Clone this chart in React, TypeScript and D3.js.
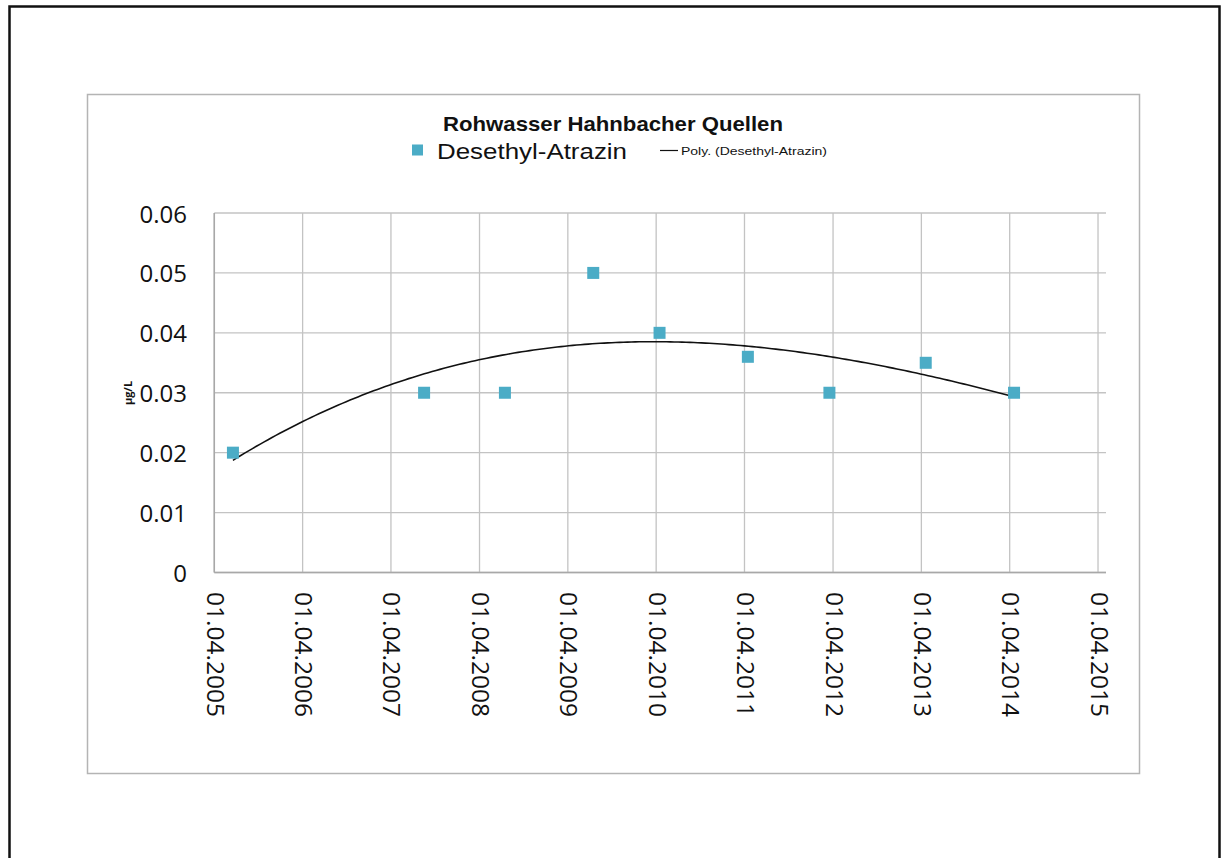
import React from 'react';
import * as d3 from 'd3';

const sampleDates = ['17.06.2005', '16.08.2007', '15.07.2008', '15.07.2009', '15.04.2010', '15.04.2011', '17.03.2012', '19.04.2013', '19.04.2014'];
const sampleValues = [0.02, 0.03, 0.03, 0.05, 0.04, 0.036, 0.03, 0.035, 0.03];
const xTickLabels = ['01.04.2005', '01.04.2006', '01.04.2007', '01.04.2008', '01.04.2009', '01.04.2010', '01.04.2011', '01.04.2012', '01.04.2013', '01.04.2014', '01.04.2015'];
const yTicks = [0, 0.01, 0.02, 0.03, 0.04, 0.05, 0.06];
const xDomain = ['01.04.2005', '04.05.2015'];
const trendOrder = 3;

const title = 'Rohwasser Hahnbacher Quellen';
const seriesName = 'Desethyl-Atrazin';
const trendName = 'Poly. (Desethyl-Atrazin)';
const yAxisTitle = 'µg/L';

const parse = d3.timeParse('%d.%m.%Y');

function polyFit(xs: number[], ys: number[], order: number) {
  const m = order + 1;
  const M: number[][] = [];
  for (let r = 0; r < m; r++) {
    const row: number[] = [];
    for (let c = 0; c < m; c++) row.push(d3.sum(xs, (x) => Math.pow(x, r + c)));
    row.push(d3.sum(xs, (x, i) => Math.pow(x, r) * ys[i]));
    M.push(row);
  }
  for (let i = 0; i < m; i++) {
    let p = i;
    for (let r = i + 1; r < m; r++) if (Math.abs(M[r][i]) > Math.abs(M[p][i])) p = r;
    [M[i], M[p]] = [M[p], M[i]];
    for (let r = 0; r < m; r++) {
      if (r === i) continue;
      const f = M[r][i] / M[i][i];
      for (let c = i; c <= m; c++) M[r][c] -= f * M[i][c];
    }
  }
  return M.map((row, i) => row[m] / row[i]);
}

export default function App() {
  const W = 1222, H = 858;
  const left = 214.3, right = 1106, top = 213, bottom = 572.5;

  const x = d3.scaleTime().domain(xDomain.map((s) => parse(s) as Date)).range([left, right]);
  const y = d3.scaleLinear().domain([0, 0.06]).range([bottom, top]);

  const pts = sampleDates.map((d, i) => ({ date: parse(d) as Date, v: sampleValues[i] }));
  const day = 86400000;
  const t0 = pts[0].date.getTime();
  const xs = pts.map((p) => (p.date.getTime() - t0) / day / 365.25);
  const coef = polyFit(xs, sampleValues, trendOrder);
  const tEnd = xs[xs.length - 1];
  const curve = d3.range(0, 201).map((i) => {
    const t = (tEnd * i) / 200;
    return { date: new Date(t0 + t * 365.25 * day), v: coef.reduce((s, k, j) => s + k * Math.pow(t, j), 0) };
  });
  const line = d3.line<{ date: Date; v: number }>().x((d) => x(d.date)).y((d) => y(d.v));

  const tickDates = xTickLabels.map((s) => parse(s) as Date);
  const grid = '#c3c3c3';
  const font = "'Open Sans', 'Liberation Sans', sans-serif";
  const font2 = "'Liberation Sans', Arial, sans-serif";
  const ms = 12;

  return (
    <svg width={W} height={H} style={{ position: 'absolute', left: 0, top: 0, background: '#fff' }}>
      <rect x={0} y={0} width={W} height={H} fill="#fff" />
      <rect x={9.5} y={6.5} width={1210} height={900} fill="none" stroke="#111" strokeWidth={2.5} />
      <rect x={87.5} y={94.5} width={1052} height={679} fill="none" stroke="#b4b4b4" strokeWidth={1.5} />

      {yTicks.map((t) => (
        <line key={'h' + t} x1={left} x2={right} y1={y(t)} y2={y(t)} stroke={grid} strokeWidth={1.3} />
      ))}
      {tickDates.map((d, i) => (
        <line key={'v' + i} x1={x(d)} x2={x(d)} y1={top} y2={bottom} stroke={grid} strokeWidth={1.3} />
      ))}
      <line x1={left} x2={left} y1={top} y2={bottom} stroke="#a8a8a8" strokeWidth={1.5} />
      <line x1={left} x2={right} y1={bottom} y2={bottom} stroke="#a8a8a8" strokeWidth={1.5} />

      {yTicks.map((t) => (
        <text key={'yl' + t} x={187} y={y(t)} textAnchor="end" dominantBaseline="central" fontFamily={font} fontSize={24} fill="#111">
          {t === 0 ? '0' : d3.format('.2f')(t)}
        </text>
      ))}

      {tickDates.map((d, i) => (
        <text
          key={'xl' + i}
          transform={`translate(${x(d) + 2},592) rotate(90)`}
          textAnchor="start"
          dominantBaseline="central"
          fontFamily={font}
          fontSize={24.5}
          fill="#111"
        >
          {xTickLabels[i]}
        </text>
      ))}

      <text transform="translate(127,393) rotate(-90)" textAnchor="middle" dominantBaseline="central" fontFamily={font} fontSize={11} fontWeight="bold" fill="#111">
        {yAxisTitle}
      </text>

      <path d={line(curve) || ''} fill="none" stroke="#111" strokeWidth={1.6} />

      {pts.map((p, i) => (
        <rect key={'m' + i} x={x(p.date) - ms / 2} y={y(p.v) - ms / 2} width={ms} height={ms} fill="#4bacc6" />
      ))}

      <text x={613} y={131} textAnchor="middle" fontFamily={font2} fontSize={21} fontWeight="bold" fill="#111" textLength={340} lengthAdjust="spacingAndGlyphs">
        {title}
      </text>

      <rect x={412} y={144.5} width={11} height={11} fill="#4bacc6" />
      <text x={437} y={159} fontFamily={font2} fontSize={22} fill="#111" textLength={190} lengthAdjust="spacingAndGlyphs">
        {seriesName}
      </text>
      <line x1={660} x2={678} y1={150.5} y2={150.5} stroke="#111" strokeWidth={1.2} />
      <text x={681} y={154.5} fontFamily={font2} fontSize={10.5} fill="#111" textLength={146} lengthAdjust="spacingAndGlyphs">
        {trendName}
      </text>
    </svg>
  );
}
